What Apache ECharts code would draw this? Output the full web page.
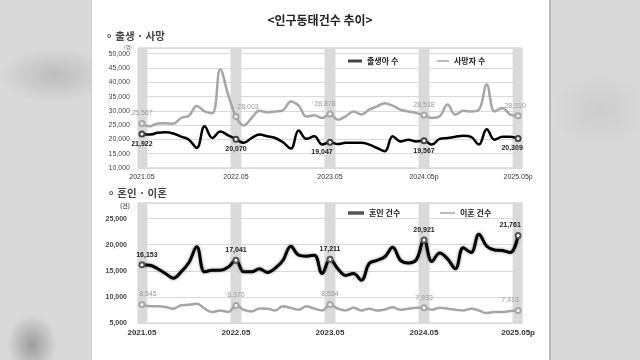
<!DOCTYPE html>
<html>
<head>
<meta charset="utf-8">
<script src="https://cdn.jsdelivr.net/npm/echarts@6/dist/echarts.min.js"></script>
<style>
html,body{margin:0;padding:0;width:640px;height:360px;overflow:hidden;}
body{background:#d9d9d9;background-image:radial-gradient(ellipse 55px 28px at 55px 75px,#bdbdbd,rgba(217,217,217,0)),radial-gradient(ellipse 25px 30px at 32px 345px,#9c9c9c,rgba(217,217,217,0)),radial-gradient(ellipse 50px 40px at 600px 110px,#cdcdcd,rgba(217,217,217,0));position:relative;}
#panel{position:absolute;left:91px;top:0;width:457px;height:360px;background:#fff;border-left:1px solid #cfcfcf;border-right:2px solid #b8b8b8;}
#chart{position:absolute;left:0;top:0;width:640px;height:360px;}
</style>
</head>
<body>
<div id="panel"></div>
<div id="chart"></div>
<script>
// ---------- data ----------
const months = ['2021.05','2021.06','2021.07','2021.08','2021.09','2021.10','2021.11','2021.12',
'2022.01','2022.02','2022.03','2022.04','2022.05','2022.06','2022.07','2022.08','2022.09','2022.10','2022.11','2022.12',
'2023.01','2023.02','2023.03','2023.04','2023.05','2023.06','2023.07','2023.08','2023.09','2023.10','2023.11','2023.12',
'2024.01','2024.02','2024.03','2024.04','2024.05','2024.06','2024.07','2024.08','2024.09','2024.10','2024.11','2024.12',
'2025.01','2025.02','2025.03','2025.04','2025.05'];
const tickLabelsTop = ['2021.05','2022.05','2023.05','2024.05p','2025.05p'];
const tickLabelsBottom = ['2021.05','2022.05','2023.05','2024.05','2025.05p'];
const bandMonths = ['2021.05','2022.05','2023.05','2024.05','2025.05'];

const births = [21922,21700,22300,22500,22100,21000,19900,17000,24600,20500,22800,21400,20070,
18800,20500,21700,21100,20500,19000,16800,23100,20200,21100,18200,19047,
18400,18800,18800,18800,18200,17000,15900,21100,19300,19900,19300,19567,
18200,20200,20500,20900,21300,20900,18200,23600,19900,20900,20900,20309];
const deaths = [25567,24600,25600,25700,25500,27500,28300,31700,29800,29200,44600,35700,28003,
24900,27500,30000,29500,29800,30200,33300,31800,28000,28500,27500,28878,
26900,28100,29800,28700,30400,31600,32700,31800,30400,29800,29200,28518,
27500,28100,32200,28700,30000,29800,30400,39200,29800,31000,28700,28310];
const marriages = [16153,16050,15400,14500,13600,14800,16600,19600,14800,15100,15100,15700,17041,
14800,14800,15400,14700,15500,17000,19700,18000,17800,18000,14500,17211,
15400,14100,14500,13200,16400,17000,17700,19500,17000,16500,17100,20921,
16800,18400,17300,15400,19400,18500,22000,19700,19000,18900,18500,21761];
const divorces = [8545,8200,8200,8070,7750,8400,8500,8700,7750,7100,7400,7100,8370,
7500,7200,7800,7750,7400,8200,7900,7550,8200,7750,7400,8554,
7750,7400,7900,7400,7750,7400,7600,8000,7550,7750,7900,7933,
7550,7900,7750,7550,7400,7750,7400,6900,7100,7100,7300,7413];

// ---------- helpers ----------
const KR = '"Noto Sans CJK KR","Noto Sans",sans-serif';
const NUM = '"Liberation Sans","DejaVu Sans",sans-serif';
function fmt(v){return String(v).replace(/\B(?=(\d{3})+(?!\d))/g, ',');}
function labeled(values, color, pos, offsets, bold){
  return values.map((v,i)=>{
    const k = bandMonths.indexOf(months[i]);
    if(k<0) return v;
    return {value:v, symbol:'emptyCircle', symbolSize:5,
      label:{show:true, position:pos, offset:offsets[k], distance:3,
        color:color, fontSize:7, fontWeight:bold?'bold':'normal', fontFamily:NUM,
        formatter:p=>fmt(p.value)}};
  });
}
function bands(maxV){return months.map(m=>bandMonths.indexOf(m)>=0?maxV:'-');}

const chart = echarts.init(document.getElementById('chart'), null, {renderer:'canvas'});
const xAxisBase = (gi, ticks, fs, fw) => ({
  type:'category', gridIndex:gi, data:months, boundaryGap:true,
  axisTick:{show:false}, axisLine:{show:false},
  axisLabel:{interval:0, margin:6, fontSize:fs, fontWeight:fw, color:'#333', fontFamily:NUM,
    formatter:(v,i)=> i%12===0 ? ticks[i/12] : ''}
});
const yAxisBase = (gi, mn, mx, margin, fw) => ({
  type:'value', gridIndex:gi, min:mn, max:mx, interval:5000,
  axisLine:{show:false}, axisTick:{show:false},
  splitLine:{lineStyle:{color:'#d9d9d9', width:1}},
  axisLabel:{margin:margin, fontSize:7, color:'#444', fontWeight:fw, fontFamily:NUM,
    formatter:v=> v%5000===0 ? fmt(v) : ''}
});
const headRich = {c:{fontSize:7, color:'#555', fontFamily:NUM, padding:[0,4,0,0]}, t:{fontSize:10.5, color:'#444', fontFamily:KR}};

const option = {
  backgroundColor:'transparent',
  animation:false,
  title:[
    {text:'<인구동태건수 추이>', left:'center', top:9, textStyle:{fontSize:12, fontWeight:'bold', color:'#222', fontFamily:KR}},
    {text:'{c|o}{t|출생 · 사망}', left:102, top:26, textStyle:{rich:headRich}},
    {text:'{c|o}{t|혼인 · 이혼}', left:104, top:183, textStyle:{rich:headRich}},
    {text:'(명)', left:119, top:40, textStyle:{fontSize:5, fontWeight:'normal', color:'#555', fontFamily:KR}},
    {text:'(건)', left:115, top:198, textStyle:{fontSize:6, fontWeight:'bold', color:'#555', fontFamily:KR}}
  ],
  legend:[
    {left:343, top:52, data:['출생아 수'], icon:'rect', itemWidth:14, itemHeight:3,
      textStyle:{fontSize:8, fontWeight:'bold', color:'#222', fontFamily:KR}},
    {left:432, top:52, data:['사망자 수'], icon:'rect', itemWidth:12, itemHeight:1.5,
      textStyle:{fontSize:8, fontWeight:'bold', color:'#222', fontFamily:KR}},
    {left:343, top:204, data:['혼인 건수'], icon:'rect', itemWidth:16, itemHeight:3.5,
      textStyle:{fontSize:8, fontWeight:'bold', color:'#222', fontFamily:KR}},
    {left:435, top:204, data:['이혼 건수'], icon:'rect', itemWidth:15, itemHeight:1.5,
      textStyle:{fontSize:8, fontWeight:'bold', color:'#222', fontFamily:KR}}
  ],
  grid:[
    {left:138, top:48, width:384, height:120, show:true, borderColor:'#c8c8c8', borderWidth:1, backgroundColor:'#fff'},
    {left:138, top:203, width:384, height:120, show:true, borderColor:'#c8c8c8', borderWidth:1, backgroundColor:'#fff'}
  ],
  xAxis:[ xAxisBase(0, tickLabelsTop, 7, 'normal'), xAxisBase(1, tickLabelsBottom, 8, 'bold') ],
  yAxis:[ yAxisBase(0, 10000, 52000, 8, 'normal'), yAxisBase(1, 5000, 28000, 11, 'bold') ],
  series:[
    {type:'bar', name:'band1', xAxisIndex:0, yAxisIndex:0, data:bands(52000), barWidth:11, silent:true,
      itemStyle:{color:'#dadada'}, z:0},
    {type:'bar', name:'band2', xAxisIndex:1, yAxisIndex:1, data:bands(28000), barWidth:11, silent:true,
      itemStyle:{color:'#dadada'}, z:0},
    {type:'line', name:'사망자 수', xAxisIndex:0, yAxisIndex:0, smooth:0.4, symbol:'none', showSymbol:true,
      data:labeled(deaths,'#9a9a9a','top',[[0,0],[12,0],[-5,0],[0,0],[-3,0]],false),
      lineStyle:{color:'#a6a6a6', width:2.5}, itemStyle:{color:'#a6a6a6', borderWidth:1}, z:3},
    {type:'line', name:'출생아 수', xAxisIndex:0, yAxisIndex:0, smooth:0.4, symbol:'none', showSymbol:true,
      data:labeled(births,'#222','bottom',[[0,0],[0,0],[-8,0],[0,0],[-6,0]],true),
      lineStyle:{color:'#000', width:2.5}, itemStyle:{color:'#444', borderWidth:1}, z:4},
    {type:'line', name:'이혼 건수', xAxisIndex:1, yAxisIndex:1, smooth:0.4, symbol:'none', showSymbol:true,
      data:labeled(divorces,'#9a9a9a','top',[[6,0],[0,0],[0,0],[0,0],[-8,0]],false),
      lineStyle:{color:'#a6a6a6', width:2.5}, itemStyle:{color:'#a6a6a6', borderWidth:1}, z:3},
    {type:'line', name:'혼인 건수', xAxisIndex:1, yAxisIndex:1, smooth:0.4, symbol:'none', showSymbol:true,
      data:labeled(marriages,'#222','top',[[5,0],[0,0],[0,0],[0,0],[-8,0]],true),
      lineStyle:{color:'#000', width:3, shadowColor:'rgba(0,0,0,0.45)', shadowBlur:3},
      itemStyle:{color:'#555', borderWidth:1}, z:4}
  ]
};
chart.setOption(option);
</script>
</body>
</html>
